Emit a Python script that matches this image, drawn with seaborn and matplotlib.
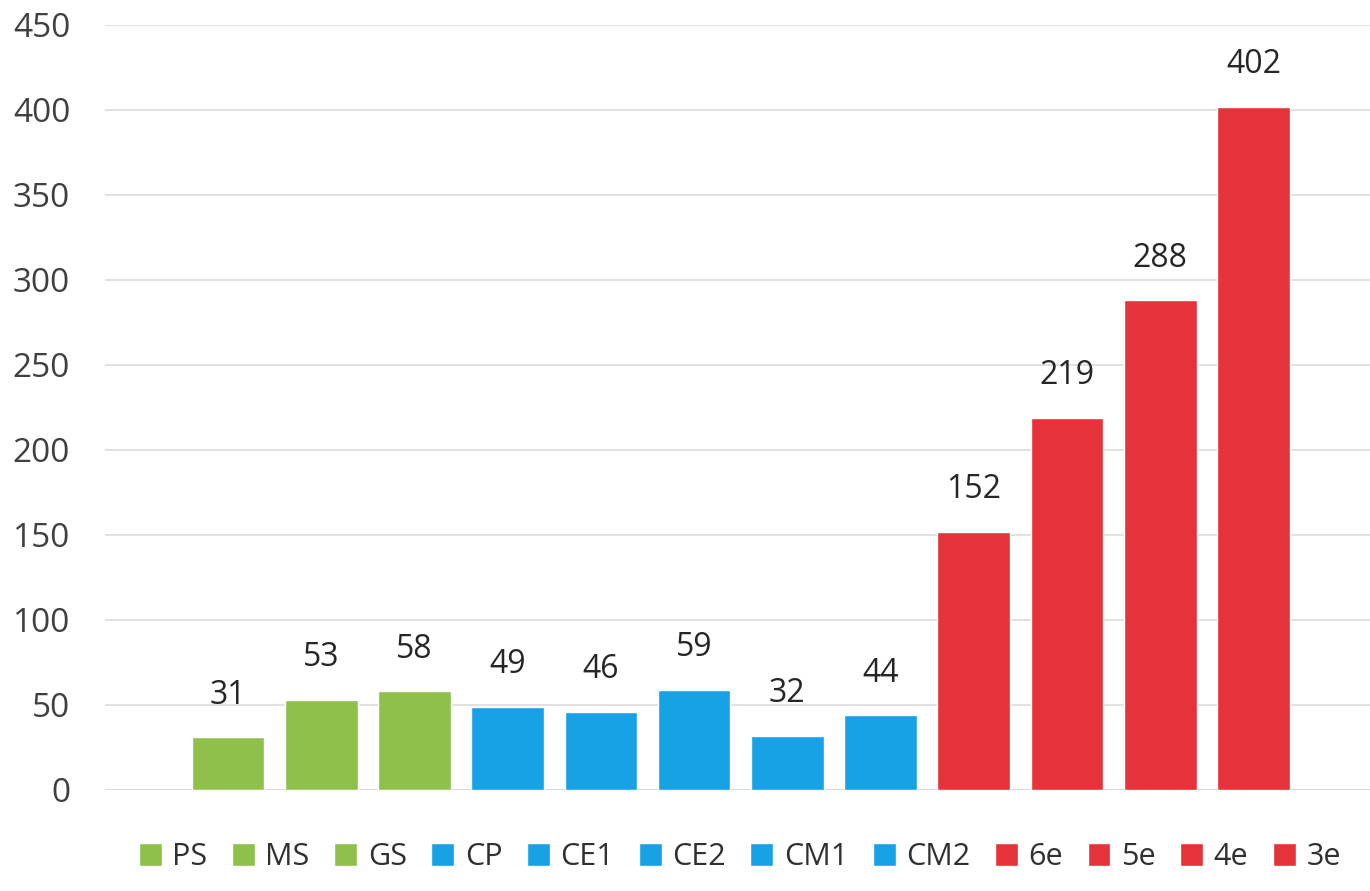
import matplotlib
matplotlib.use("Agg")
import matplotlib.pyplot as plt
import seaborn as sns
import pandas as pd

categories = ["PS", "MS", "GS", "CP", "CE1", "CE2", "CM1", "CM2", "6e", "5e", "4e", "3e"]
values = [31, 53, 58, 49, 46, 59, 32, 44, 152, 219, 288, 402]
groups = ["green"] * 3 + ["blue"] * 5 + ["red"] * 4
group_colors = {"green": "#8fc04c", "blue": "#18a2e6", "red": "#e6333b"}
yticks = [0, 50, 100, 150, 200, 250, 300, 350, 400, 450]

sns.set_theme(style="white")
plt.rcParams["font.family"] = ["Open Sans", "DejaVu Sans"]

df = pd.DataFrame({"cat": categories, "val": values})
palette = {c: group_colors[g] for c, g in zip(categories, groups)}

fig = plt.figure(figsize=(13.7, 8.91), dpi=100)
ax = fig.add_axes([0.0766, 0.1134, 0.9234, 0.8586])

sns.barplot(data=df, x="cat", y="val", hue="cat", palette=palette, order=categories,
            hue_order=categories, dodge=False, width=0.78, legend=True, ax=ax,
            saturation=1)

ax.set_ylim(0, 450)
ax.set_xlim(-1.32, 12.25)
ax.set_yticks(yticks)
ax.set_yticklabels([str(t) for t in yticks], fontsize=24, color="#404040")
ax.tick_params(axis="y", length=0, pad=25)
ax.set_xticks([])
ax.set_xlabel("")
ax.set_ylabel("")
for s in ax.spines.values():
    s.set_visible(False)
ax.yaxis.grid(True, color="#dcdcdc", linewidth=1.2)
ax.set_axisbelow(True)
ax.axhline(0, color="#c8c8c8", linewidth=1.4, zorder=0)

for i, v in enumerate(values):
    ax.text(i, v + 15, str(v), ha="center", va="bottom", fontsize=23, color="#262626")

handles, labels = ax.get_legend_handles_labels()
ax.get_legend().remove()
fig.legend(handles, labels, loc="center", bbox_to_anchor=(0.54, 0.038), ncol=12,
           frameon=False, fontsize=22, handlelength=0.75, handleheight=0.8,
           handletextpad=0.35, columnspacing=0.8, labelcolor="#303030")

fig.savefig("out.png", dpi=100)
